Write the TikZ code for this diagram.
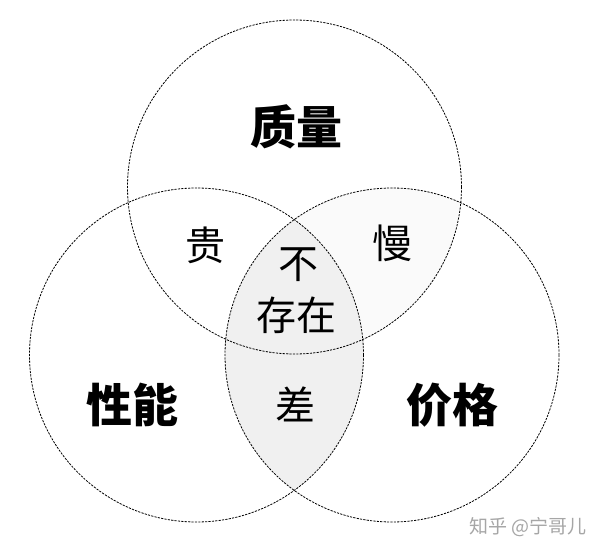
\documentclass[tikz,border=0pt]{standalone}
\usepackage{fontspec}
\newfontfamily\cjk{Noto Sans CJK SC}
\begin{document}
\begin{tikzpicture}[x=1pt,y=-1pt,
  ring/.style={draw=black,line width=0.8pt,dash pattern=on 2.2pt off 1.2pt},
  biglabel/.style={font=\cjk\bfseries\fontsize{46}{50}\selectfont,inner sep=0pt},
  smalllabel/.style={font=\cjk\fontsize{40}{46}\selectfont,inner sep=0pt,align=center},
  wmark/.style={font=\cjk\fontsize{19}{22}\selectfont,text=black!35,inner sep=0pt}]
\useasboundingbox[fill=white] (0,0) rectangle (600,546);
\coordinate (T) at (294.5,187);
\coordinate (L) at (196.5,355);
\coordinate (R) at (392,355);
% faint shading of the upper right lens
\begin{scope}
  \clip (T) circle[radius=167];
  \fill[black!2] (R) circle[radius=167];
\end{scope}
% shading of the lens shared by the lower circles
\begin{scope}
  \clip (L) circle[radius=167];
  \fill[black!6] (R) circle[radius=167];
\end{scope}
\draw[ring] (T) circle[radius=167];
\draw[ring] (L) circle[radius=167];
\draw[ring] (R) circle[radius=167];
\node[biglabel] (quality) at (296,127) {质量};
\node[biglabel] (perf) at (132.5,405) {性能};
\node[biglabel] (price) at (452,405) {价格};
\node[smalllabel] (gui) at (205,245) {贵};
\node[smalllabel] (man) at (392,243) {慢};
\node[smalllabel] (bu) at (298,265) {不};
\node[smalllabel] (cunzai) at (296,315) {存在};
\node[smalllabel] (cha) at (295,404) {差};
\node[wmark] (wm) at (528,527) {知乎 @宁哥儿};
\end{tikzpicture}
\end{document}
